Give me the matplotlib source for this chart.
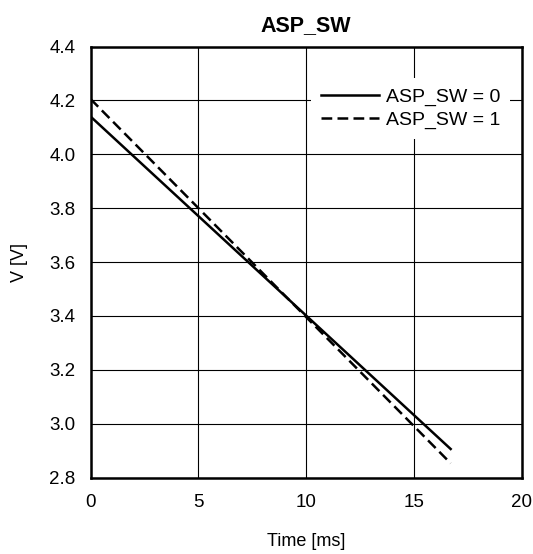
import matplotlib.pyplot as plt

plt.rcParams['font.family'] = ['Liberation Sans', 'DejaVu Sans']

time_ms = [0, 16.7]
v_sw0 = [4.14, 2.906]
v_sw1 = [4.205, 2.853]

fig = plt.figure(figsize=(5.33, 5.54), dpi=100)
ax = fig.add_axes([0.170, 0.138, 0.809, 0.778])

ax.plot(time_ms, v_sw0, color='black', lw=1.8, label='ASP_SW = 0')
ax.plot(time_ms, v_sw1, color='black', lw=1.8, ls=(0, (4.3, 2.1)), label='ASP_SW = 1')

ax.set_xlim(0, 20)
ax.set_ylim(2.8, 4.4)
ax.set_xticks([0, 5, 10, 15, 20])
ax.set_yticks([2.8, 3.0, 3.2, 3.4, 3.6, 3.8, 4.0, 4.2, 4.4])
ax.set_yticklabels(['2.8', '3.0', '3.2', '3.4', '3.6', '3.8', '4.0', '4.2', '4.4'])
ax.tick_params(length=0, labelsize=13.5)
ax.tick_params(axis='x', pad=12)
ax.tick_params(axis='y', pad=11)
ax.grid(True, color='black', lw=0.8)
for s in ax.spines.values():
    s.set_linewidth(1.8)

ax.set_title('ASP_SW', fontsize=15.5, fontweight='bold', pad=11)
ax.set_xlabel('Time [ms]', fontsize=13, labelpad=16)
ax.set_ylabel('V [V]', fontsize=13, labelpad=15)

leg = ax.legend(loc='upper right', bbox_to_anchor=(0.973, 0.927), borderaxespad=0,
                fontsize=14, frameon=True, handlelength=3.0, handletextpad=0.35,
                borderpad=0.5, labelspacing=0.3, fancybox=False)
leg.get_frame().set_edgecolor('none')
leg.get_frame().set_alpha(1)

fig.savefig('out.png', dpi=100)
